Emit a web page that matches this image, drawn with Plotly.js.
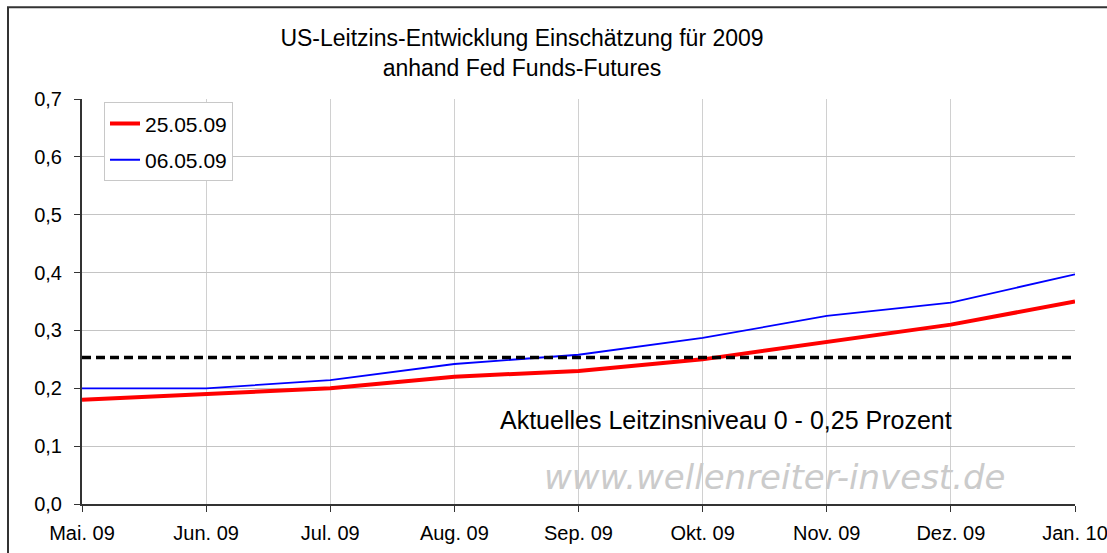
<!DOCTYPE html>
<html>
<head>
<meta charset="utf-8">
<script src="https://cdn.plot.ly/plotly-3.0.1.min.js"></script>
<style>
  html, body { margin: 0; padding: 0; background: #fff; }
  #chart { width: 1107px; height: 553px; }
</style>
</head>
<body>
<div id="chart"></div>
<script>
// Monthly categories (x axis)
const months = ['Mai. 09', 'Jun. 09', 'Jul. 09', 'Aug. 09', 'Sep. 09', 'Okt. 09', 'Nov. 09', 'Dez. 09', 'Jan. 10'];

// Fed funds futures implied rate
const rate250509 = [0.18, 0.19, 0.20, 0.22, 0.23, 0.25, 0.28, 0.31, 0.35];
const rate060509 = [0.20, 0.20, 0.214, 0.242, 0.258, 0.287, 0.325, 0.348, 0.397];

// Current rate ceiling (dashed reference line)
const currentLevel = 0.253;

const font = 'Liberation Sans, Arial, sans-serif';

const traces = [
  {
    name: '25.05.09',
    x: months,
    y: rate250509,
    type: 'scatter',
    mode: 'lines',
    line: { color: '#ff0000', width: 4 },
    legendgroup: 'a',
  },
  {
    name: '06.05.09',
    x: months,
    y: rate060509,
    type: 'scatter',
    mode: 'lines',
    line: { color: '#0000ff', width: 1.8 },
    legendgroup: 'b',
  },
  {
    name: 'Leitzins',
    x: months,
    y: months.map(() => currentLevel),
    type: 'scatter',
    mode: 'lines',
    line: { color: '#000000', width: 3.5, dash: '9px,5px' },
    showlegend: false,
    hoverinfo: 'skip',
  },
];

const layout = {
  width: 1107,
  height: 553,
  paper_bgcolor: '#ffffff',
  plot_bgcolor: '#ffffff',
  separators: ',.',
  font: { family: font, size: 20, color: '#000' },
  margin: { l: 82, r: 32, t: 99, b: 49 },
  title: {
    text: 'US-Leitzins-Entwicklung Einschätzung für 2009<br>anhand Fed Funds-Futures',
    font: { family: font, size: 23, color: '#000' },
    x: 522 / 1107,
    xref: 'container',
    xanchor: 'center',
    y: 1 - 46 / 553,
    yref: 'container',
    yanchor: 'middle',
  },
  xaxis: {
    type: 'category',
    range: [0, months.length - 1],
    showgrid: true,
    gridcolor: '#d0d0d0',
    gridwidth: 1,
    showline: true,
    linecolor: '#333',
    linewidth: 2,
    ticks: 'outside',
    ticklen: 6,
    tickcolor: '#333',
    tickfont: { family: font, size: 20 },
    ticklabelstandoff: 4,
    zeroline: false,
    fixedrange: true,
  },
  yaxis: {
    range: [0, 0.7],
    dtick: 0.1,
    tickformat: '.1f',
    showgrid: true,
    gridcolor: '#c4c4c4',
    gridwidth: 1,
    showline: true,
    linecolor: '#333',
    linewidth: 2,
    ticks: 'outside',
    ticklen: 6,
    tickcolor: '#333',
    tickfont: { family: font, size: 20 },
    ticklabelstandoff: 8,
    zeroline: false,
    fixedrange: true,
  },
  showlegend: true,
  legend: {
    x: (104 - 82) / 993,
    y: (504 - 102) / 405.3,
    xanchor: 'left',
    yanchor: 'top',
    bgcolor: '#ffffff',
    bordercolor: '#c8c8c8',
    borderwidth: 1,
    font: { family: font, size: 21 },
    traceorder: 'grouped',
    tracegroupgap: 6,
  },
  shapes: [
    {
      type: 'rect',
      xref: 'paper',
      yref: 'paper',
      x0: (8 - 82) / 993,
      x1: (1112 - 82) / 993,
      y0: (504 - 562) / 405.3,
      y1: (504 - 7) / 405.3,
      line: { color: '#333', width: 2 },
      layer: 'below',
    },
  ],
  annotations: [
    {
      text: 'Aktuelles Leitzinsniveau 0 - 0,25 Prozent',
      xref: 'paper',
      yref: 'y',
      x: (726 - 82) / 993,
      xanchor: 'center',
      y: 0.145,
      showarrow: false,
      font: { family: font, size: 25, color: '#000' },
    },
    {
      text: 'www.wellenreiter-invest.de',
      xref: 'paper',
      yref: 'y',
      x: (775 - 82) / 993,
      xanchor: 'center',
      y: 0.047,
      showarrow: false,
      font: { family: 'DejaVu Sans, sans-serif', size: 34, color: '#cbcbcb', style: 'italic' },
    },
  ],
};

Plotly.newPlot('chart', traces, layout, { displayModeBar: false, staticPlot: true });
</script>
</body>
</html>
